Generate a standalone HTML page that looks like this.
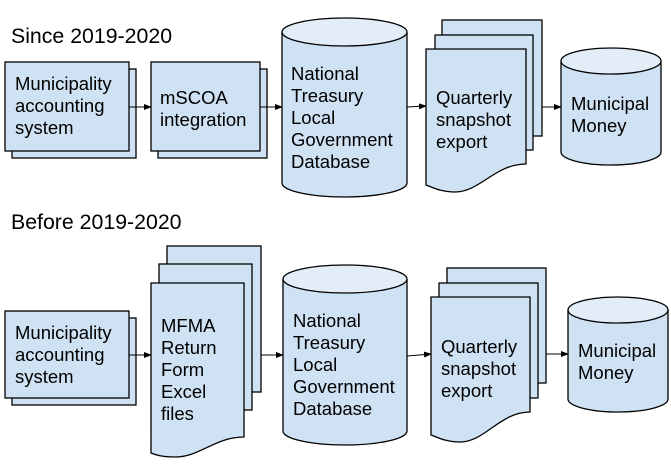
<!DOCTYPE html>
<html><head><meta charset="utf-8"><style>
html,body{margin:0;padding:0;background:#fff}
svg{display:block}
text{font-family:"Liberation Sans",Arial,sans-serif;font-size:18.5px;fill:#000}
.s{fill:#cfe2f3;stroke:#000;stroke-width:1.3}
.t{fill:#e3edf7;stroke:#000;stroke-width:1.3}
.a{stroke:#000;stroke-width:1}
</style></head><body>
<svg width="671" height="468" viewBox="0 0 671 468" xmlns="http://www.w3.org/2000/svg">
<defs><marker id="m" markerWidth="8" markerHeight="6" refX="7" refY="3" orient="auto" markerUnits="userSpaceOnUse"><path d="M0,0L8,3L0,6z"/></marker></defs>

<text x="11" y="43" style="font-size:21.3px">Since 2019-2020</text>
<rect class="s" x="12" y="69" width="124" height="89"/>
<rect class="s" x="5" y="62" width="124" height="89"/>
<text x="15" y="90">Municipality</text><text x="15" y="112">accounting</text><text x="15" y="134">system</text>
<line class="a" x1="129" y1="107" x2="151" y2="107" marker-end="url(#m)"/>
<rect class="s" x="158" y="69" width="109" height="89"/>
<rect class="s" x="151" y="62" width="109" height="89"/>
<text x="160" y="104">mSCOA</text><text x="160" y="126">integration</text>
<line class="a" x1="260" y1="107" x2="282" y2="107" marker-end="url(#m)"/>
<path class="s" d="M282,32 L282,183 A62.5,14 0 0 0 407,183 L407,32"/>
<ellipse class="t" cx="344.5" cy="32" rx="62.5" ry="14"/>
<text x="291" y="80">National</text><text x="291" y="102">Treasury</text><text x="291" y="124">Local</text><text x="291" y="146">Government</text><text x="291" y="168">Database</text>
<line class="a" x1="407" y1="107" x2="426" y2="106" marker-end="url(#m)"/>
<rect class="s" x="442" y="20" width="100" height="116"/>
<rect class="s" x="435" y="35" width="98" height="115"/>
<path class="s" d="M426,49 L526,49 L526,164 C495,164 480,192 455,192 C440,192 432,187 426,185 Z"/>
<text x="436" y="104">Quarterly</text><text x="436" y="126">snapshot</text><text x="436" y="148">export</text>
<line class="a" x1="542" y1="107" x2="561" y2="107" marker-end="url(#m)"/>
<path class="s" d="M561,61 L561,152 A50,13 0 0 0 661,152 L661,61"/>
<ellipse class="t" cx="611" cy="61" rx="50" ry="13"/>
<text x="571" y="110">Municipal</text><text x="571" y="132">Money</text>

<text x="11" y="229" style="font-size:21.3px">Before 2019-2020</text>
<rect class="s" x="12" y="318" width="124" height="87"/>
<rect class="s" x="5" y="311" width="124" height="87"/>
<text x="15" y="339">Municipality</text><text x="15" y="361">accounting</text><text x="15" y="383">system</text>
<line class="a" x1="129" y1="355" x2="151" y2="355" marker-end="url(#m)"/>
<rect class="s" x="167" y="246" width="94" height="146"/>
<rect class="s" x="159" y="264" width="93" height="146"/>
<path class="s" d="M151,283 L244,283 L244,437 C215,437 200,457 175,457 C162,457 156,455 151,453 Z"/>
<text x="161" y="332">MFMA</text><text x="161" y="354">Return</text><text x="161" y="376">Form</text><text x="161" y="398">Excel</text><text x="161" y="420">files</text>
<line class="a" x1="261" y1="355" x2="283" y2="355" marker-end="url(#m)"/>
<path class="s" d="M283,279 L283,431 A62,14 0 0 0 407,431 L407,279"/>
<ellipse class="t" cx="345" cy="279" rx="62" ry="14"/>
<text x="293" y="327">National</text><text x="293" y="349">Treasury</text><text x="293" y="371">Local</text><text x="293" y="393">Government</text><text x="293" y="415">Database</text>
<line class="a" x1="407" y1="356" x2="431" y2="354" marker-end="url(#m)"/>
<rect class="s" x="447" y="268" width="99" height="115"/>
<rect class="s" x="439" y="283" width="99" height="115"/>
<path class="s" d="M431,297 L530,297 L530,412 C500,412 485,442 460,442 C445,442 437,437 431,435 Z"/>
<text x="441" y="353">Quarterly</text><text x="441" y="375">snapshot</text><text x="441" y="397">export</text>
<line class="a" x1="546" y1="354" x2="568" y2="354" marker-end="url(#m)"/>
<path class="s" d="M568,310 L568,399 A50,13 0 0 0 668,399 L668,310"/>
<ellipse class="t" cx="618" cy="310" rx="50" ry="13"/>
<text x="578" y="357">Municipal</text><text x="578" y="379">Money</text>
</svg>
</body></html>
